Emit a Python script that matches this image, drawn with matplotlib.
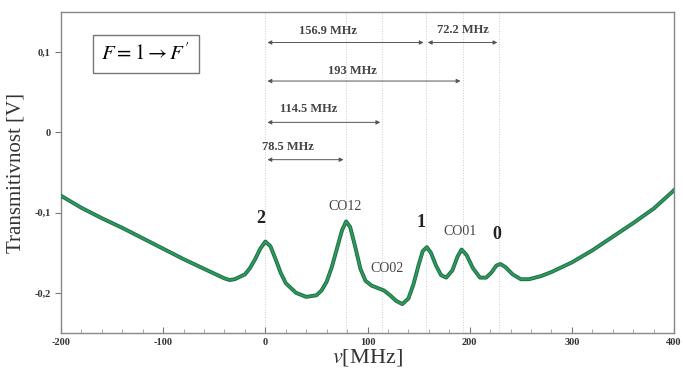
import matplotlib.pyplot as plt
from matplotlib.ticker import MultipleLocator, FuncFormatter

plt.rcParams['font.family'] = 'Liberation Serif'
plt.rcParams['mathtext.fontset'] = 'stix'
plt.rcParams['axes.unicode_minus'] = False

# transmission curve
freq = [-200, -180, -160, -140, -120, -100, -80, -60, -50, -40, -35, -30, -20, -15,
        -10, -5, 0, 5, 10, 15, 20, 30, 40, 50, 55, 60, 65, 70, 75, 79, 83, 88, 93,
        98, 104, 110, 116, 122, 128, 134, 140, 145, 150, 154, 158, 162, 167, 172,
        177, 183, 188, 192, 197, 203, 210, 216, 221, 226, 230, 235, 242, 250, 258,
        270, 280, 300, 320, 340, 360, 380, 400]
signal = [-0.079, -0.094, -0.107, -0.119, -0.132, -0.145, -0.158, -0.170, -0.176,
          -0.182, -0.184, -0.183, -0.177, -0.169, -0.158, -0.145, -0.136, -0.142,
          -0.158, -0.175, -0.188, -0.200, -0.205, -0.203, -0.197, -0.186, -0.168,
          -0.145, -0.122, -0.111, -0.118, -0.143, -0.170, -0.185, -0.191, -0.194,
          -0.197, -0.203, -0.210, -0.214, -0.207, -0.189, -0.165, -0.148, -0.143,
          -0.150, -0.166, -0.178, -0.181, -0.172, -0.155, -0.146, -0.153, -0.169,
          -0.181, -0.181, -0.175, -0.166, -0.164, -0.168, -0.177, -0.183, -0.183,
          -0.179, -0.174, -0.162, -0.147, -0.130, -0.113, -0.095, -0.072]

# resonance positions (MHz)
lines_x = [0, 78.5, 114.5, 156.9, 193, 229.1]

# peak labels
peak_labels = ['2', 'CO12', 'CO02', '1', 'CO01', '0']
peak_x = [-5, 78, 119, 152, 190, 226]
peak_y = [-0.118, -0.1, -0.178, -0.123, -0.131, -0.138]
peak_bold = [True, False, False, True, False, True]

# distance arrows: start, end, height, label, label x, label y
arr_start = [0, 156.9, 0, 0, 0]
arr_end = [156.9, 229.1, 193, 114.5, 78.5]
arr_y = [0.112, 0.112, 0.064, 0.0125, -0.034]
arr_text = ['156.9 MHz', '72.2 MHz', '193 MHz', '114.5 MHz', '78.5 MHz']
arr_tx = [61, 193, 85, 42, 22]
arr_ty = [0.126, 0.127, 0.077, 0.029, -0.018]

fig = plt.figure(figsize=(6.83, 3.76), dpi=100)
ax = fig.add_axes([0.0893, 0.1144, 0.8977, 0.8536])

for x in lines_x:
    ax.axvline(x, color='#cccccc', lw=0.7, ls=':', zorder=1)

ax.plot(freq, signal, color='#1f6e45', lw=2.8, solid_joinstyle='round', zorder=3)
ax.plot(freq, signal, color='#2e9a5c', lw=1.4, solid_joinstyle='round', zorder=4)

for t, x, y, b in zip(peak_labels, peak_x, peak_y, peak_bold):
    if b:
        ax.text(x, y, t, ha='center', va='bottom', fontsize=13, fontweight='bold', color='#222222')
    else:
        ax.text(x, y, t, ha='center', va='bottom', fontsize=10, color='#444444')

for s, e, y, t, tx, ty in zip(arr_start, arr_end, arr_y, arr_text, arr_tx, arr_ty):
    ax.annotate('', xy=(e - 2, y), xytext=(s + 2, y),
                arrowprops=dict(arrowstyle='<|-|>', color='#555555', lw=0.7,
                                mutation_scale=6, shrinkA=0, shrinkB=0))
    ax.text(tx, ty, t, ha='center', va='center', fontsize=9, color='#444444', fontweight='bold')

ax.text(-117, 0.098, r"$F = 1 \rightarrow F'$", ha='center', va='center', fontsize=15,
        bbox=dict(boxstyle='square,pad=0.4', fc='white', ec='#777777', lw=1))

ax.set_xlim(-200, 400)
ax.set_ylim(-0.25, 0.15)
ax.set_xticks([-200, -100, 0, 100, 200, 300, 400])
ax.set_yticks([-0.2, -0.1, 0, 0.1])
ax.xaxis.set_minor_locator(MultipleLocator(20))
ax.yaxis.set_major_formatter(FuncFormatter(lambda v, p: ('%g' % round(v, 2)).replace('.', ',')))
ax.tick_params(axis='x', direction='in', length=4, labelsize=7.5, colors='#777777', labelcolor='#333333')
ax.tick_params(axis='x', which='minor', direction='in', length=3, colors='#999999')
ax.tick_params(axis='y', direction='out', length=4, labelsize=7.5, colors='#777777', labelcolor='#333333')
for lab in ax.get_xticklabels() + ax.get_yticklabels():
    lab.set_fontweight('bold')
for s in ax.spines.values():
    s.set_color('#888888')
    s.set_linewidth(1)

ax.set_ylabel('Transmitivnost [V]', fontsize=15, color='#333333', labelpad=6)
ax.set_xlabel(r'$v$[MHz]', fontsize=16, color='#333333', labelpad=0)

fig.savefig('out.png', dpi=100)
